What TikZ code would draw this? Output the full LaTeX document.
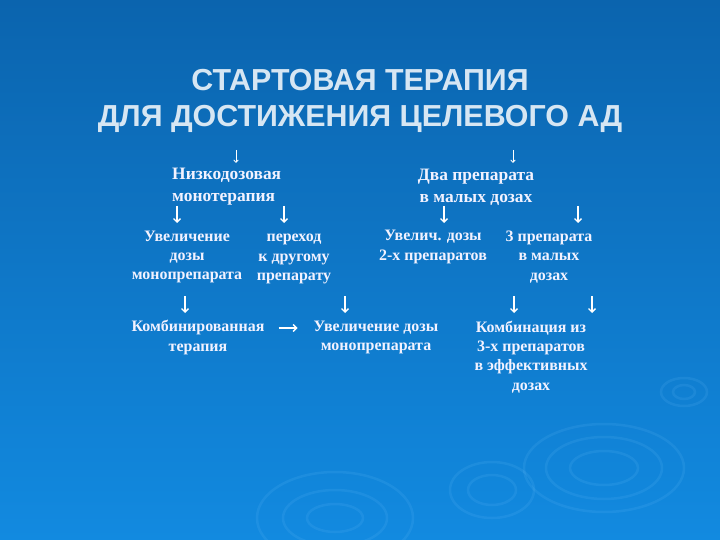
\documentclass[tikz,border=0pt]{standalone}
\usepackage{fontspec}
\setmainfont{Liberation Serif}
\newfontfamily\titlefont{Liberation Sans}
\usetikzlibrary{arrows.meta}
\definecolor{bgtop}{RGB}{11,100,174}
\definecolor{bgbot}{RGB}{18,138,224}
\definecolor{titlecol}{RGB}{214,230,243}
\definecolor{ripple}{RGB}{120,200,255}
\begin{document}
\begin{tikzpicture}
			[x=1bp,y=-1bp,
			txt/.style={font=\bfseries\fontsize{16}{19.4}\selectfont,text=white!95!blue,inner sep=0pt,align=center},
			toptxt/.style={txt,font=\bfseries\fontsize{17.5}{22}\selectfont},
			ttl/.style={text=titlecol,inner sep=0pt,font=\titlefont\bfseries\fontsize{30.5}{34}\selectfont},
			smallarr/.style={white,line width=0.8bp,-{Straight Barb[length=2.5bp,width=4.5bp]}},
			bigarr/.style={white,line width=1.4bp,-{Straight Barb[length=3.5bp,width=7bp]}},
			rings/.style={ripple,opacity=0.12,line width=2.5bp}]
			% background
			\shade[top color=bgtop,bottom color=bgbot] (0,0) rectangle (720,540);
			\useasboundingbox (0,0) rectangle (720,540);
			% ripples
			\draw[rings] (604,468) ellipse (80 and 44);
			\draw[rings] (604,468) ellipse (58 and 31);
			\draw[rings] (604,468) ellipse (34 and 17);
			\draw[rings] (684,392) ellipse (23 and 14);
			\draw[rings] (684,392) ellipse (11 and 7);
			\draw[rings] (335,518) ellipse (78 and 46);
			\draw[rings] (335,518) ellipse (52 and 28);
			\draw[rings] (335,518) ellipse (28 and 14);
			\draw[rings] (492,490) ellipse (42 and 28);
			\draw[rings] (492,490) ellipse (24 and 15);
			% title
			\node[ttl,name=title1] at (360,80) {СТАРТОВАЯ ТЕРАПИЯ};
			\node[ttl,name=title2] at (360,119) {ДЛЯ ДОСТИЖЕНИЯ ЦЕЛЕВОГО АД};
			% first level
			\node[toptxt,name=low,anchor=west,align=left] at (172,187) {Низкодозовая\\монотерапия};
			\node[toptxt,name=two] at (476,187) {Два препарата\\в малых дозах};
			% second level
			\node[txt,name=inc] at (187,257) {Увеличение\\дозы\\монопрепарата};
			\node[txt,name=swap] at (294,259) {переход\\к другому\\препарату};
			\node[txt,name=inctwo] at (433,247) {Увелич. дозы\\2-х препаратов};
			\node[txt,name=three] at (549,257) {3 препарата\\в малых\\дозах};
			% third level
			\node[txt,name=comb] at (198,337.5) {Комбинированная\\терапия};
			\node[txt,name=mono] at (376,337.5) {Увеличение дозы\\монопрепарата};
			\node[txt,name=combthree] at (531,357) {Комбинация из\\3-х препаратов\\в эффективных\\дозах};
			% arrows
			\coordinate (a1) at (236,150);
			\coordinate (a2) at (513,150);
			\coordinate (b1) at (177,206);
			\coordinate (b2) at (284,206);
			\coordinate (b3) at (444,206);
			\coordinate (b4) at (578,206);
			\coordinate (c1) at (185,296);
			\coordinate (c2) at (345,296);
			\coordinate (c3) at (514,296);
			\coordinate (c4) at (592,296);
			\draw[smallarr] (a1)--++(0,13);
			\draw[smallarr] (a2)--++(0,13);
			\draw[bigarr] (b1)--++(0,17);
			\draw[bigarr] (b2)--++(0,17);
			\draw[bigarr] (b3)--++(0,17);
			\draw[bigarr] (b4)--++(0,17);
			\draw[bigarr] (c1)--++(0,17);
			\draw[bigarr] (c2)--++(0,17);
			\draw[bigarr] (c3)--++(0,17);
			\draw[bigarr] (c4)--++(0,17);
			\draw[bigarr,shorten <=14bp,shorten >=16bp] ([yshift=9.5bp]comb.east)--([yshift=9.5bp]mono.west);
		\end{tikzpicture}
\end{document}
